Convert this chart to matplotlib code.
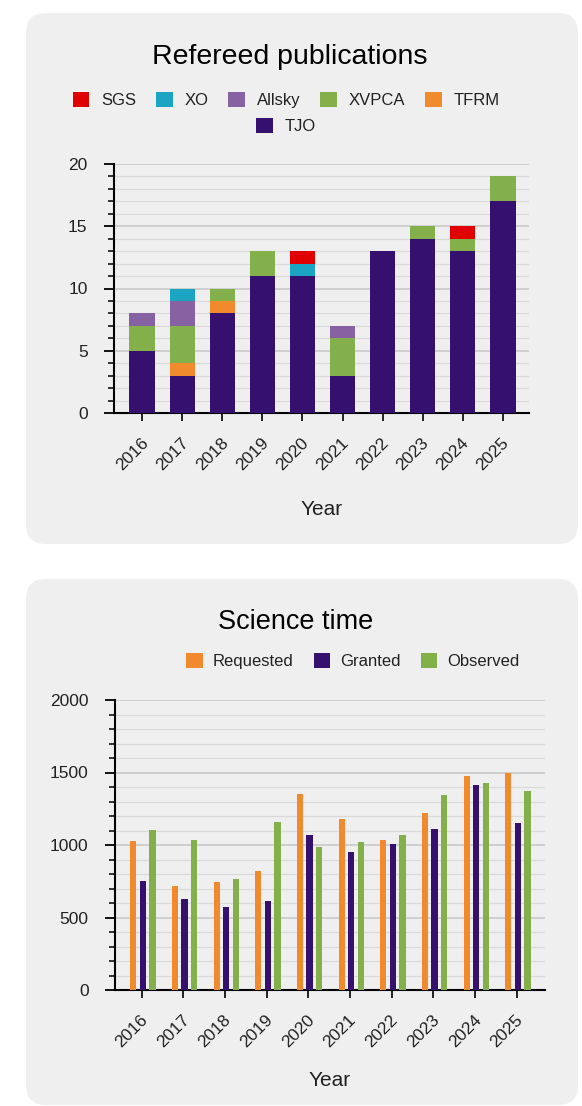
import matplotlib.pyplot as plt
import numpy as np
from matplotlib.patches import FancyBboxPatch, Patch
from matplotlib.transforms import ScaledTranslation

plt.rcParams['font.family'] = ['Liberation Sans', 'DejaVu Sans']

years = ['2016', '2017', '2018', '2019', '2020', '2021', '2022', '2023', '2024', '2025']

# refereed publications, stacked from the bottom
tjo    = [5, 3, 8, 11, 11, 3, 13, 14, 13, 17]
tfrm   = [0, 1, 1, 0, 0, 0, 0, 0, 0, 0]
xvpca  = [2, 3, 1, 2, 0, 3, 0, 1, 1, 2]
allsky = [1, 2, 0, 0, 0, 1, 0, 0, 0, 0]
xo     = [0, 1, 0, 0, 1, 0, 0, 0, 0, 0]
sgs    = [0, 0, 0, 0, 1, 0, 0, 0, 1, 0]

# science time
requested = [1025, 720, 742, 823, 1353, 1177, 1037, 1223, 1475, 1500]
granted   = [749, 629, 574, 611, 1067, 954, 1009, 1111, 1417, 1150]
observed  = [1101, 1037, 767, 1157, 984, 1018, 1067, 1343, 1426, 1371]

c_tjo = '#36106f'
c_tfrm = '#f08a2c'
c_xvpca = '#84b04b'
c_allsky = '#8662a3'
c_xo = '#1ba5c2'
c_sgs = '#e00000'
txt = '#222222'

W, H = 582, 1106
fig = plt.figure(figsize=(W / 100, H / 100), dpi=100)
fig.patch.set_facecolor('white')

# rounded grey panels (in inches)
for (x0, y0, x1, y1) in [(26, 13, 578, 544), (26, 579, 578, 1105)]:
    fig.patches.append(FancyBboxPatch(
        (x0 / 100 + 0.2, (H - y1) / 100 + 0.2), (x1 - x0) / 100 - 0.4, (y1 - y0) / 100 - 0.4,
        boxstyle='round,pad=0.2', transform=fig.dpi_scale_trans,
        facecolor='#efefef', edgecolor='none', zorder=-10))

shift = ScaledTranslation(9 / 100, 0, fig.dpi_scale_trans)


def style_axes(ax, ymax, major, minor):
    ax.set_facecolor('none')
    for s in ['top', 'right']:
        ax.spines[s].set_visible(False)
    ax.spines['left'].set_linewidth(1.5)
    ax.spines['bottom'].set_linewidth(1.5)
    ax.set_ylim(0, ymax)
    ax.set_yticks(np.arange(0, ymax + 1, major))
    ax.set_yticks(np.arange(0, ymax + 1, minor), minor=True)
    ax.grid(axis='y', which='major', color='#c6c6c6', linewidth=1.1, zorder=0)
    ax.grid(axis='y', which='minor', color='#dadada', linewidth=0.9, zorder=0)
    ax.set_axisbelow(True)
    ax.tick_params(axis='y', which='major', length=7, width=1.3, pad=12, labelsize=12.5, labelcolor=txt)
    ax.tick_params(axis='y', which='minor', length=4, width=1.1)
    ax.tick_params(axis='x', length=6, width=1.2, pad=10, labelsize=12.5, labelcolor=txt)
    ax.set_xticks(np.arange(len(years)))
    ax.set_xticklabels(years, rotation=45, ha='right', va='top')
    for lab in ax.get_xticklabels():
        lab.set_transform(lab.get_transform() + shift)


# --- Refereed publications ---
ax1 = fig.add_axes([114 / W, (H - 413) / H, (529 - 114) / W, (413 - 164) / H])
x = np.arange(len(years))
bw = 0.63
bottom = np.zeros(len(years))
handles = {}
for name, vals, col in [('TJO', tjo, c_tjo), ('TFRM', tfrm, c_tfrm), ('XVPCA', xvpca, c_xvpca),
                        ('Allsky', allsky, c_allsky), ('XO', xo, c_xo), ('SGS', sgs, c_sgs)]:
    ax1.bar(x, vals, bw, bottom=bottom, color=col, zorder=3)
    handles[name] = Patch(facecolor=col)
    bottom += np.array(vals)
style_axes(ax1, 20, 5, 1)
ax1.set_xlim(-0.7, 9.65)
ax1.set_xlabel('Year', fontsize=15, color=txt, labelpad=19)

fig.text(290 / W, 1 - 57 / H, 'Refereed publications', ha='center', va='center', fontsize=20.5, color='black')
row1 = ['SGS', 'XO', 'Allsky', 'XVPCA', 'TFRM']
fig.legend([handles[n] for n in row1], row1, loc='center', bbox_to_anchor=(286 / W, 1 - 100 / H),
           ncol=5, frameon=False, fontsize=12, handlelength=1.0, handleheight=1.0,
           columnspacing=1.2, handletextpad=0.7, labelcolor=txt)
fig.legend([handles['TJO']], ['TJO'], loc='center', bbox_to_anchor=(286 / W, 1 - 126 / H),
           frameon=False, fontsize=12, handlelength=1.0, handleheight=1.0,
           handletextpad=0.7, labelcolor=txt)

# --- Science time ---
ax2 = fig.add_axes([115 / W, (H - 990) / H, (545 - 115) / W, (990 - 700) / H])
bw2 = 0.15
gap = 0.23
b_r = ax2.bar(x - gap + 0.03, requested, bw2, color=c_tfrm, zorder=3, label='Requested')
b_g = ax2.bar(x + 0.03, granted, bw2, color=c_tjo, zorder=3, label='Granted')
b_o = ax2.bar(x + gap + 0.03, observed, bw2, color=c_xvpca, zorder=3, label='Observed')
style_axes(ax2, 2000, 500, 100)
ax2.set_xlim(-0.64, 9.68)
ax2.set_xlabel('Year', fontsize=15, color=txt, labelpad=15)

fig.text(296 / W, 1 - 622 / H, 'Science time', ha='center', va='center', fontsize=19.5, color='black')
fig.legend([b_r, b_g, b_o], ['Requested', 'Granted', 'Observed'], loc='center',
           bbox_to_anchor=(353 / W, 1 - 661 / H), ncol=3, frameon=False, fontsize=12,
           handlelength=1.0, handleheight=1.0, columnspacing=1.2, handletextpad=0.6, labelcolor=txt)

fig.savefig('out.png', dpi=100)
